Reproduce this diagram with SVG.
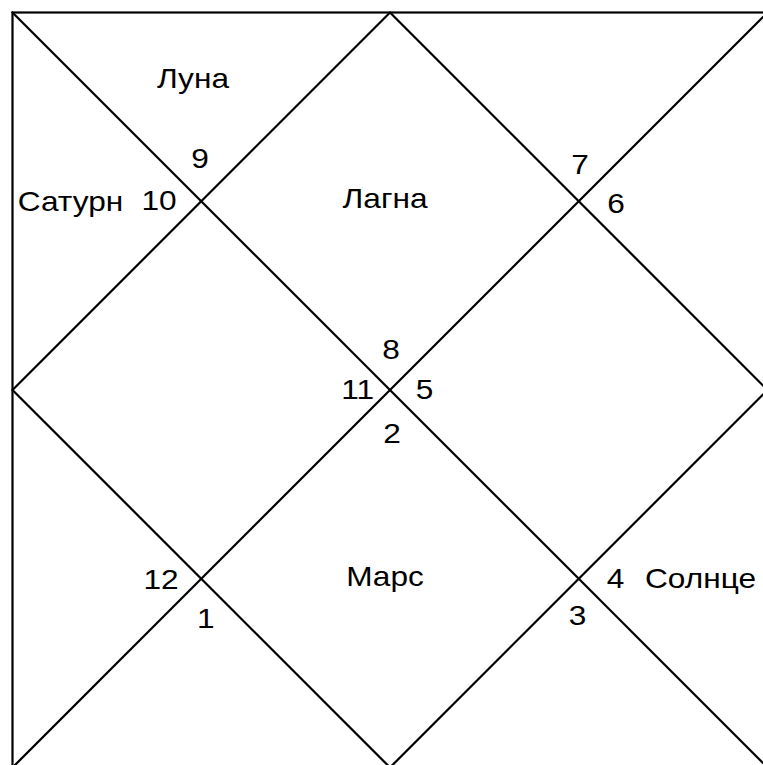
<svg xmlns="http://www.w3.org/2000/svg" width="763" height="765" viewBox="0 0 763 765">
<style>
.ln{stroke:#000;stroke-width:2.2;fill:none;stroke-linecap:square}
.t{font-family:"Liberation Sans",Arial,sans-serif;font-size:28px;fill:#000;text-anchor:middle}
</style>
<rect width="763" height="765" fill="#fff"/>
<g id="connectors">
<rect class="ln" x="12.5" y="12.5" width="755" height="755"/>
<line class="ln" x1="12.5" y1="12.5" x2="767.5" y2="767.5"/>
<line class="ln" x1="767.5" y1="12.5" x2="12.5" y2="767.5"/>
<polygon class="ln" points="390,12.5 767.5,390 390,767.5 12.5,390"/>
</g>
<g id="h9"><text class="t" transform="translate(193,88) scale(1.13,1)">Луна</text><text class="t" transform="translate(200,168) scale(1.13,1)">9</text></g>
<g id="h10"><text class="t" transform="translate(70.5,211) scale(1.13,1)">Сатурн</text><text class="t" transform="translate(159,210) scale(1.13,1)">10</text></g>
<g id="h8"><text class="t" transform="translate(385,208) scale(1.13,1)">Лагна</text><text class="t" transform="translate(391,359) scale(1.13,1)">8</text></g>
<g id="h7"><text class="t" transform="translate(580,174) scale(1.13,1)">7</text></g>
<g id="h6"><text class="t" transform="translate(616,213) scale(1.13,1)">6</text></g>
<g id="h11"><text class="t" transform="translate(357.7,399) scale(1.13,1)">11</text></g>
<g id="h5"><text class="t" transform="translate(424.5,399) scale(1.13,1)">5</text></g>
<g id="h2"><text class="t" transform="translate(392,443) scale(1.13,1)">2</text><text class="t" transform="translate(385,586) scale(1.13,1)">Марс</text></g>
<g id="h12"><text class="t" transform="translate(161,589) scale(1.13,1)">12</text></g>
<g id="h1"><text class="t" transform="translate(205.7,628) scale(1.13,1)">1</text></g>
<g id="h4"><text class="t" transform="translate(615.5,588) scale(1.13,1)">4</text><text class="t" transform="translate(700.5,588) scale(1.13,1)">Солнце</text></g>
<g id="h3"><text class="t" transform="translate(577.5,625) scale(1.13,1)">3</text></g>
</svg>
